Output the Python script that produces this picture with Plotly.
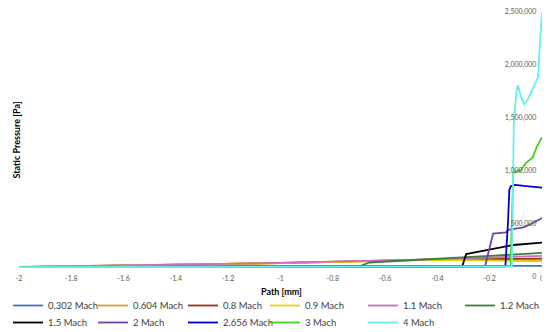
import plotly.graph_objects as go

# ---- data (x in mm, static pressure in Pa) ----
names = ["0.302 Mach", "0.604 Mach", "0.8 Mach", "0.9 Mach", "1.1 Mach", "1.2 Mach",
         "1.5 Mach", "2 Mach", "2.656 Mach", "3 Mach", "4 Mach"]
colors = ["#4472C4", "#D9A12E", "#9A3412", "#E3D600", "#D06CC0", "#3B7F3F",
          "#000000", "#7043A8", "#0000CC", "#44D11E", "#66F0F0"]

x_0302 = [-2, -1, -0.5, 0]
y_0302 = [76000, 80000, 83000, 86000]

x_0604 = [-2, -1, -0.4, -0.2, 0]
y_0604 = [75000, 112000, 145000, 140000, 138000]

x_08 = [-2, -1, -0.4, -0.2, 0]
y_08 = [75000, 113000, 148000, 152000, 155000]

x_09 = [-2, -1, -0.4, -0.2, 0]
y_09 = [76000, 112000, 144000, 135000, 128000]

x_11 = [-2, -1, -0.4, -0.2, 0]
y_11 = [76000, 114000, 150000, 165000, 180000]

x_12 = [-2, -0.7, -0.66, -0.4, -0.2, 0]
y_12 = [74000, 80000, 118000, 150000, 180000, 208000]

x_15 = [-2, -0.305, -0.29, -0.2, -0.11, 0]
y_15 = [74000, 82000, 198000, 240000, 283000, 305000]

x_2 = [-2, -0.218, -0.187, -0.16, -0.137, -0.13, -0.10, -0.07, -0.035, 0]
y_2 = [74000, 82000, 390000, 400000, 402000, 425000, 434000, 450000, 490000, 538000]

x_2656 = [-2, -0.14, -0.13, -0.125, -0.12, -0.103, -0.07, -0.03, 0]
y_2656 = [74000, 82000, 500000, 800000, 835000, 850000, 840000, 830000, 825000]

x_3 = [-2, -0.12, -0.114, -0.11, -0.1, -0.09, -0.085, -0.06, -0.035, -0.02, 0]
y_3 = [74000, 82000, 600000, 960000, 975000, 990000, 975000, 1060000, 1110000, 1210000, 1300000]

x_4 = [-2, -0.115, -0.111, -0.108, -0.098, -0.092, -0.08, -0.068, -0.055, -0.034, -0.015, -0.008, 0]
y_4 = [74000, 82000, 800000, 1430000, 1720000, 1790000, 1680000, 1610000, 1650000, 1760000, 1870000, 2190000, 2480000]

xs = [x_0302, x_0604, x_08, x_09, x_11, x_12, x_15, x_2, x_2656, x_3, x_4]
ys = [y_0302, y_0604, y_08, y_09, y_11, y_12, y_15, y_2, y_2656, y_3, y_4]

x_tickvals = [-2, -1.8, -1.6, -1.4, -1.2, -1, -0.8, -0.6, -0.4, -0.2, 0]
x_ticktext = ["-2", "-1.8", "-1.6", "-1.4", "-1.2", "-1", "-0.8", "-0.6", "-0.4", "-0.2", "0"]
y_tickvals = [0, 500000, 1000000, 1500000, 2000000, 2500000]

FONT = "Lato, 'Liberation Sans', sans-serif"

# The page body has the browser's default 8px margin, so the figure is
# sized to fill the rest of the 550x332 window.
OFF = 8
W, H = 550 - OFF, 332 - OFF
ML, MR, MT, MB = 19 - OFF, W - (542 - OFF), 10 - OFF, H - (275 - OFF)
PW, PH = W - ML - MR, H - MT - MB


def px_to_paper(px, py):
    """window pixel -> paper coordinates"""
    fx, fy = px - OFF, py - OFF
    return (fx - ML) / PW, (H - MB - fy) / PH


# legend layout (window px): text start per column, text centre per row
col_text_px = [41, 133, 223, 305, 403, 500]
row_mid_px = [305, 322]
TEXT_DX = 40   # legend left -> text start
TEXT_DY = 14   # legend top -> text centre

fig = go.Figure()
legends = {}
for i, (n, c, x, y) in enumerate(zip(names, colors, xs, ys)):
    key = "legend" if i == 0 else f"legend{i + 1}"
    fig.add_trace(go.Scatter(
        x=x, y=y, mode="lines", name=n,
        line=dict(color=c, width=1.8),
        legend=key,
    ))
    row, col = divmod(i, 6)
    left_px = max(col_text_px[col] - TEXT_DX, OFF)
    lx, ly = px_to_paper(left_px, row_mid_px[row] - TEXT_DY)
    legends[key] = dict(orientation="h", x=lx, xanchor="left", y=ly, yanchor="top",
                        font=dict(size=9.5, color="#404040", family=FONT),
                        bgcolor="rgba(0,0,0,0)", itemwidth=30)

ax, ay = px_to_paper(281, 291)
bx, by = px_to_paper(OFF, 140)

fig.update_layout(
    width=W, height=H,
    margin=dict(l=ML, r=MR, t=MT, b=MB, autoexpand=False),
    paper_bgcolor="white", plot_bgcolor="white",
    font=dict(family=FONT, color="#595959"),
    showlegend=True,
    xaxis=dict(range=[-2, 0], tickvals=x_tickvals, ticktext=x_ticktext,
               showgrid=False, zeroline=False, showline=False, ticks="",
               tickfont=dict(size=7, color="#595959"), ticklabelstandoff=-2),
    yaxis=dict(range=[0, 2500000], tickvals=y_tickvals, tickformat=",",
               side="right", ticklabelposition="inside", ticklabeloverflow="allow",
               ticklabelstandoff=4, ticklabelshift=2,
               showgrid=False, zeroline=False, showline=True,
               linecolor="#D9D9D9", linewidth=1, ticks="",
               tickfont=dict(size=7, color="#595959")),
    annotations=[
        dict(text="<b>Path [mm]</b>", x=ax, y=ay, xref="paper", yref="paper",
             xanchor="center", yanchor="middle",
             showarrow=False, font=dict(size=9, color="#000000", family=FONT)),
        dict(text="<b>Static Pressure [Pa]</b>", textangle=-90, x=bx, y=by,
             xref="paper", yref="paper", xanchor="left", yanchor="middle",
             showarrow=False, font=dict(size=9, color="#000000", family=FONT)),
    ],
    **legends,
)

fig.write_html("out.html")
